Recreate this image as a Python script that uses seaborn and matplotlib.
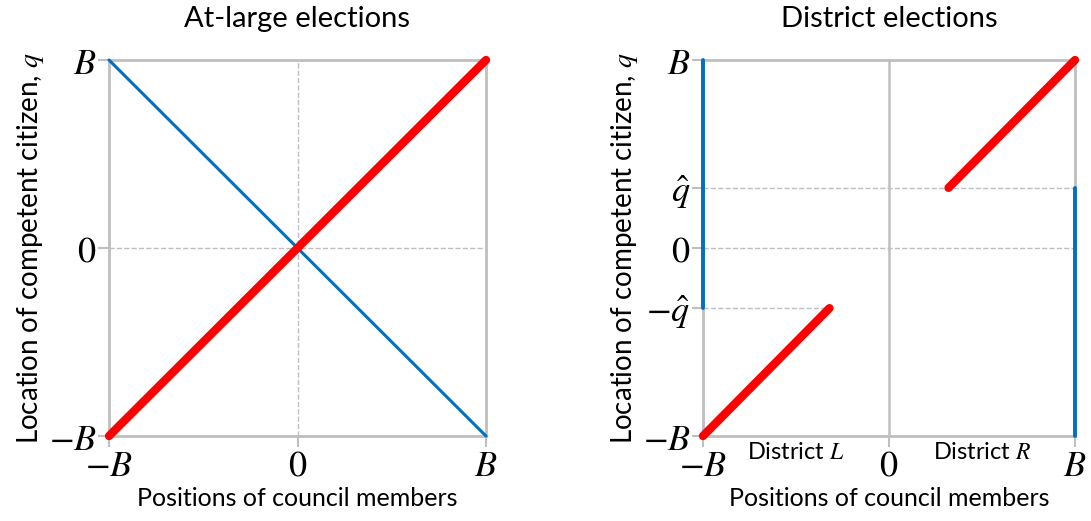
import matplotlib
matplotlib.use("Agg")
import matplotlib.pyplot as plt
import seaborn as sns

B = 1.0
q_hat = 0.32

# at-large panel
al_x = [-B, B]
al_red = [-B, B]
al_blue = [B, -B]

# district panel
dl_red_x = [-B, -q_hat]
dl_red_y = [-B, -q_hat]
dr_red_x = [q_hat, B]
dr_red_y = [q_hat, B]
dl_blue_x = [-B, -B]
dl_blue_y = [-q_hat, B]
dr_blue_x = [B, B]
dr_blue_y = [-B, q_hat]

x_ticks = [-B, 0, B]
x_ticklabels = ["$-B$", "$0$", "$B$"]
y_ticks_left = [-B, 0, B]
y_ticklabels_left = ["$-B$", "$0$", "$B$"]
y_ticks_right = [-B, -q_hat, 0, q_hat, B]
y_ticklabels_right = ["$-B$", r"$-\hat{q}$", "$0$", r"$\hat{q}$", "$B$"]

sns.set_style("white")
plt.rcParams["font.family"] = ["Lato", "DejaVu Sans"]
plt.rcParams["mathtext.fontset"] = "stix"
plt.rcParams["text.color"] = "black"
plt.rcParams["axes.labelcolor"] = "black"

RED = "#FF0000"
BLUE = "#0070C0"
GRAY = "#BFBFBF"

fig = plt.figure(figsize=(10.91, 5.21), dpi=100)
ax1 = fig.add_axes([109 / 1091, 85 / 521, 377 / 1091, 376 / 521])
ax2 = fig.add_axes([703 / 1091, 85 / 521, 372 / 1091, 376 / 521])


def style(ax, yt, ytl, title):
    ax.set_xlim(-B, B)
    ax.set_ylim(-B, B)
    for s in ax.spines.values():
        s.set_color(GRAY)
        s.set_linewidth(2)
    ax.set_xticks(x_ticks)
    ax.set_xticklabels(x_ticklabels, fontsize=26)
    ax.set_yticks(yt)
    ax.set_yticklabels(ytl, fontsize=26)
    ax.tick_params(bottom=True, left=True, length=8, width=1.5,
                   color=GRAY, labelcolor="black", pad=1)
    ax.set_title(title, fontsize=21, pad=24)
    ax.set_xlabel("Positions of council members", fontsize=18, labelpad=4)
    ax.set_ylabel("Location of competent citizen, $q$", fontsize=20, labelpad=2)


# left panel
ax1.axhline(0, color=GRAY, lw=1, ls="--", zorder=0)
ax1.axvline(0, color=GRAY, lw=1, ls="--", zorder=0)
sns.lineplot(x=al_x, y=al_blue, ax=ax1, color=BLUE, lw=2.2,
             estimator=None, sort=False, clip_on=False, zorder=5)
sns.lineplot(x=al_x, y=al_red, ax=ax1, color=RED, lw=6,
             estimator=None, sort=False, solid_capstyle="round",
             clip_on=False, zorder=6)
style(ax1, y_ticks_left, y_ticklabels_left, "At-large elections")

# right panel
ax2.axvline(0, color=GRAY, lw=1.8, zorder=0)
ax2.axhline(0, color=GRAY, lw=1, ls="--", zorder=0)
ax2.axhline(q_hat, color=GRAY, lw=1, ls="--", zorder=0)
ax2.plot([-B, -q_hat], [-q_hat, -q_hat], color=GRAY, lw=1, ls="--", zorder=0)
for xs, ys in [(dl_blue_x, dl_blue_y), (dr_blue_x, dr_blue_y)]:
    sns.lineplot(x=xs, y=ys, ax=ax2, color=BLUE, lw=2.8,
                 estimator=None, sort=False, zorder=5, clip_on=False)
for xs, ys in [(dl_red_x, dl_red_y), (dr_red_x, dr_red_y)]:
    sns.lineplot(x=xs, y=ys, ax=ax2, color=RED, lw=6,
                 estimator=None, sort=False, solid_capstyle="round",
                 zorder=6, clip_on=False)
style(ax2, y_ticks_right, y_ticklabels_right, "District elections")
ax2.text(-B / 2, -1.03, "District $L$", ha="center", va="top", fontsize=17)
ax2.text(B / 2, -1.03, "District $R$", ha="center", va="top", fontsize=17)

fig.savefig("out.png", dpi=100)
